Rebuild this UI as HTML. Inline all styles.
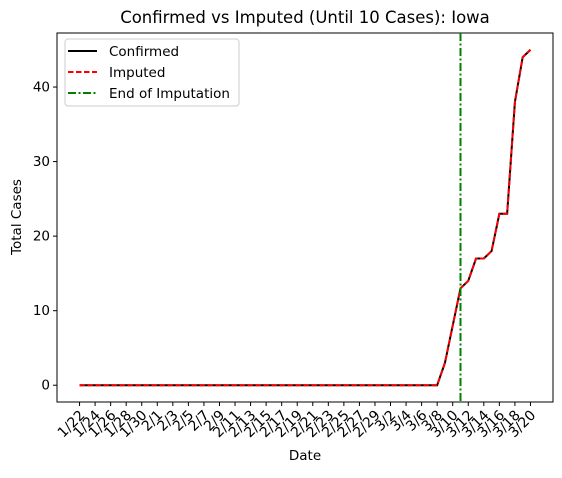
<!DOCTYPE html>
<html><head><meta charset="utf-8"><style>
body{margin:0;background:#fff}
svg text{font-family:"DejaVu Sans","Liberation Sans",sans-serif;fill:#000}
</style></head><body>
<svg id="chart" width="562" height="473" xmlns="http://www.w3.org/2000/svg">
<rect width="562" height="473" fill="#fff"/>
<text x="305" y="23" font-size="16.5" text-anchor="middle">Confirmed vs Imputed (Until 10 Cases): Iowa</text>
<g id="plot"></g>
<text x="305" y="460" font-size="13.5" text-anchor="middle">Date</text>
<text transform="translate(21,217) rotate(-90)" font-size="13.5" text-anchor="middle">Total Cases</text>
<g>
<rect x="65" y="39" width="174" height="67" rx="3" fill="#fff" stroke="#ccc" stroke-width="1"/>
<line x1="68" y1="51" x2="97" y2="51" stroke="#000" stroke-width="2"/>
<text x="109" y="56" font-size="13.5">Confirmed</text>
<line x1="68" y1="72" x2="97" y2="72" stroke="red" stroke-width="2" stroke-dasharray="5.5,2.5"/>
<text x="109" y="77" font-size="13.5">Imputed</text>
<line x1="68" y1="93" x2="97" y2="93" stroke="green" stroke-width="2" stroke-dasharray="8,2.5,2,2.5"/>
<text x="109" y="98" font-size="13.5">End of Imputation</text>
</g>
</svg>
<script>
const dates = [];
const confirmed = [0,0,0,0,0,0,0,0,0,0, 0,0,0,0,0,0,0,0,0,0,0,0,0,0,0,0,0,0,0,0,0,0,0,0,0,0,0,0,0, 0,0,0,0,0,0,0,0,3,8,13,14,17,17,18,23,23,38,44,45];
const imputed = confirmed.slice();
const imputationEndIndex = 49;
const yTicks = [0,10,20,30,40];
(function(){const dm=[[1,22,31],[2,1,29],[3,1,20]];for(const [m,a,b] of dm)for(let d=a;d<=b;d++)dates.push(m+"/"+d);})();
const NS="http://www.w3.org/2000/svg";
const L=57,R=553,T=33,B=402;
const xmin=-2.9,xmax=dates.length-1+2.9,ymin=-2.25,ymax=47.25;
const xs=i=>L+(i-xmin)/(xmax-xmin)*(R-L);
const ys=v=>B-(v-ymin)/(ymax-ymin)*(B-T);
const g=document.getElementById('plot');
function el(t,a){const e=document.createElementNS(NS,t);for(const k in a)e.setAttribute(k,a[k]);g.appendChild(e);return e;}
const frame=el('rect',{x:L,y:T,width:R-L,height:B-T,fill:'none',stroke:'#000','stroke-width':1});


yTicks.forEach(v=>{
  const t=el('line',{x1:L-4,x2:L,y1:ys(v),y2:ys(v),stroke:'#000'});
  
  
  const tx=el('text',{x:L-7,y:ys(v)+4.5,'font-size':13.5,'text-anchor':'end'});tx.textContent=v;
  
  
});
dates.forEach((d,i)=>{
  if(i%2) return;
  const x=xs(i);
  const t=el('line',{x1:x,x2:x,y1:B,y2:B+4,stroke:'#000'});
  
  
  const tx=el('text',{transform:`translate(${x+6},${B+14}) rotate(-45)`,'font-size':14,'text-anchor':'end'});tx.textContent=d;
  
  
});
const pts=a=>a.map((v,i)=>xs(i).toFixed(2)+","+ys(v).toFixed(2)).join(" ");
const c=el('polyline',{points:pts(confirmed),fill:'none',stroke:'#000','stroke-width':2});


const im=el('polyline',{points:pts(imputed),fill:'none',stroke:'red','stroke-width':2,'stroke-dasharray':'5.5,2.5'});


const vx=xs(imputationEndIndex);
const vl=el('line',{x1:vx,x2:vx,y1:T,y2:B,stroke:'green','stroke-width':2,'stroke-dasharray':'8,2.5,2,2.5'});


</script>
</body></html>
